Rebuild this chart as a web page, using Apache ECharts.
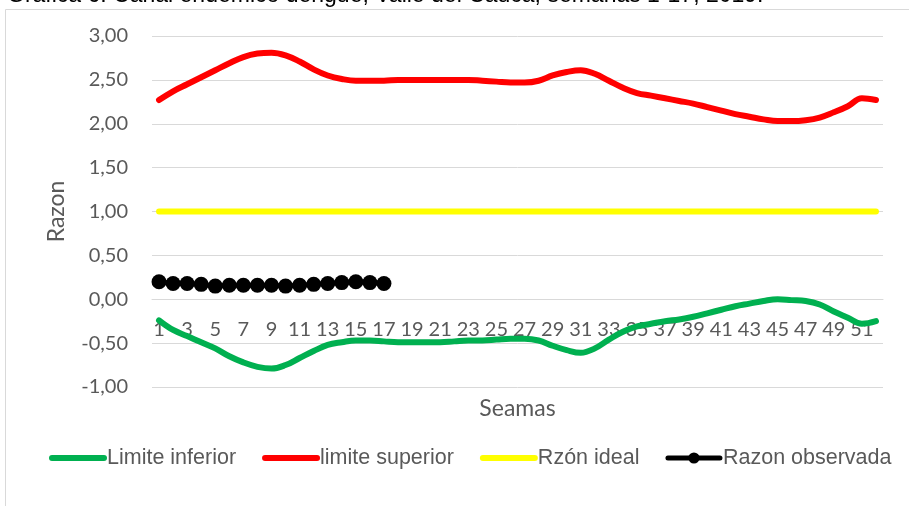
<!DOCTYPE html>
<html>
<head>
<meta charset="utf-8">
<script src="https://cdn.jsdelivr.net/npm/echarts@6/dist/echarts.min.js"></script>
<style>
  html, body { margin: 0; padding: 0; background: #fff; }
  #chart { width: 909px; height: 506px; }
</style>
</head>
<body>
<div id="chart"></div>
<script>
var semanas = [];
for (var i = 1; i <= 52; i++) semanas.push(String(i));

var limiteInferior = [
  -0.24, -0.35, -0.42, -0.49, -0.56, -0.65, -0.72, -0.77, -0.79, -0.75,
  -0.67, -0.59, -0.52, -0.49, -0.47, -0.47, -0.48, -0.49, -0.49, -0.49,
  -0.49, -0.48, -0.47, -0.47, -0.46, -0.45, -0.45, -0.47, -0.53, -0.58,
  -0.61, -0.56, -0.46, -0.37, -0.31, -0.28, -0.25, -0.23, -0.20, -0.16,
  -0.12, -0.08, -0.05, -0.02, 0.00, -0.01, -0.02, -0.06, -0.14, -0.21,
  -0.28, -0.25
];
var limiteSuperior = [
  2.27, 2.37, 2.45, 2.53, 2.61, 2.69, 2.76, 2.80, 2.81, 2.78,
  2.71, 2.62, 2.55, 2.51, 2.49, 2.49, 2.49, 2.50, 2.50, 2.50,
  2.50, 2.50, 2.50, 2.49, 2.48, 2.47, 2.47, 2.49, 2.55, 2.59,
  2.61, 2.57, 2.49, 2.41, 2.35, 2.32, 2.29, 2.26, 2.23, 2.19,
  2.15, 2.11, 2.08, 2.05, 2.03, 2.03, 2.04, 2.07, 2.13, 2.20,
  2.29, 2.27
];
var razonIdeal = [
  1, 1, 1, 1, 1, 1, 1, 1, 1, 1, 1, 1, 1, 1, 1, 1, 1, 1, 1, 1, 1, 1, 1, 1, 1, 1,
  1, 1, 1, 1, 1, 1, 1, 1, 1, 1, 1, 1, 1, 1, 1, 1, 1, 1, 1, 1, 1, 1, 1, 1, 1, 1
];
var razonObservada = [
  0.20, 0.18, 0.18, 0.17, 0.15, 0.16, 0.16, 0.16, 0.16, 0.15,
  0.16, 0.17, 0.18, 0.19, 0.20, 0.19, 0.18
];

var chart = echarts.init(document.getElementById("chart"), null, { renderer: "canvas" });
var axisFont = "Lato";
// grid spans 351px for 4 units, so the zero line sits 87.75px above the bottom edge
var option = {
  animation: false,
  graphic: [
    {
      type: "text",
      left: 7,
      top: -16,
      style: {
        text: "Gráfica 6. Canal endémico dengue, Valle del Cauca, semanas 1-17, 2019.",
        font: "23px 'Liberation Sans'",
        fill: "#000"
      }
    },
    {
      type: "rect",
      shape: { x: 5.5, y: 9.5, width: 1000, height: 600 },
      style: { fill: "none", stroke: "#d9d9d9", lineWidth: 1 }
    }
  ],
  grid: { left: 152, right: 26, top: 36, bottom: 119, outerBoundsMode: "none" },
  legend: {
    left: 44,
    top: 442,
    width: 880,
    itemWidth: 52,
    itemHeight: 14,
    itemGap: 26,
    lineStyle: { width: 6, cap: "round" },
    textStyle: { fontFamily: "Liberation Sans", fontSize: 21.5, color: "#595959", padding: [0, 0, 0, -2] },
    data: [
      { name: "Limite inferior", itemStyle: { opacity: 0 } },
      { name: "limite superior", itemStyle: { opacity: 0 } },
      { name: "Rzón ideal", itemStyle: { opacity: 0 } },
      { name: "Razon observada", lineStyle: { width: 5 } }
    ]
  },
  xAxis: {
    type: "category",
    data: semanas,
    boundaryGap: true,
    offset: -87.75,
    name: "Seamas",
    nameLocation: "middle",
    nameGap: 98,
    nameTextStyle: { fontFamily: axisFont, fontSize: 23, color: "#595959" },
    axisLine: { show: true, onZero: false, lineStyle: { color: "#d9d9d9", width: 1 } },
    axisTick: { show: false },
    axisLabel: { interval: 1, margin: 20, fontFamily: axisFont, fontSize: 20, color: "#595959" }
  },
  yAxis: {
    type: "value",
    min: -1,
    max: 3,
    interval: 0.5,
    name: "Razon",
    nameLocation: "middle",
    nameGap: 84,
    nameTextStyle: { fontFamily: axisFont, fontSize: 23, color: "#595959" },
    axisLine: { show: false },
    axisTick: { show: false },
    splitLine: { lineStyle: { color: "#d9d9d9", width: 1 } },
    axisLabel: {
      margin: 24,
      fontFamily: axisFont,
      fontSize: 20,
      color: "#595959",
      formatter: function (v) { return v.toFixed(2).replace(".", ","); }
    }
  },
  series: [
    {
      name: "Limite inferior",
      type: "line",
      data: limiteInferior,
      smooth: 0.4,
      symbol: "none",
      itemStyle: { color: "#00b050" },
      lineStyle: { color: "#00b050", width: 6, cap: "round" }
    },
    {
      name: "limite superior",
      type: "line",
      data: limiteSuperior,
      smooth: 0.4,
      symbol: "none",
      itemStyle: { color: "#ff0000" },
      lineStyle: { color: "#ff0000", width: 6, cap: "round" }
    },
    {
      name: "Rzón ideal",
      type: "line",
      data: razonIdeal,
      symbol: "none",
      itemStyle: { color: "#ffff00" },
      lineStyle: { color: "#ffff00", width: 6, cap: "round" }
    },
    {
      name: "Razon observada",
      type: "line",
      data: razonObservada,
      symbol: "circle",
      symbolSize: 15,
      showAllSymbol: true,
      itemStyle: { color: "#000" },
      lineStyle: { color: "#000", width: 5 }
    }
  ]
};
chart.setOption(option);
</script>
</body>
</html>
